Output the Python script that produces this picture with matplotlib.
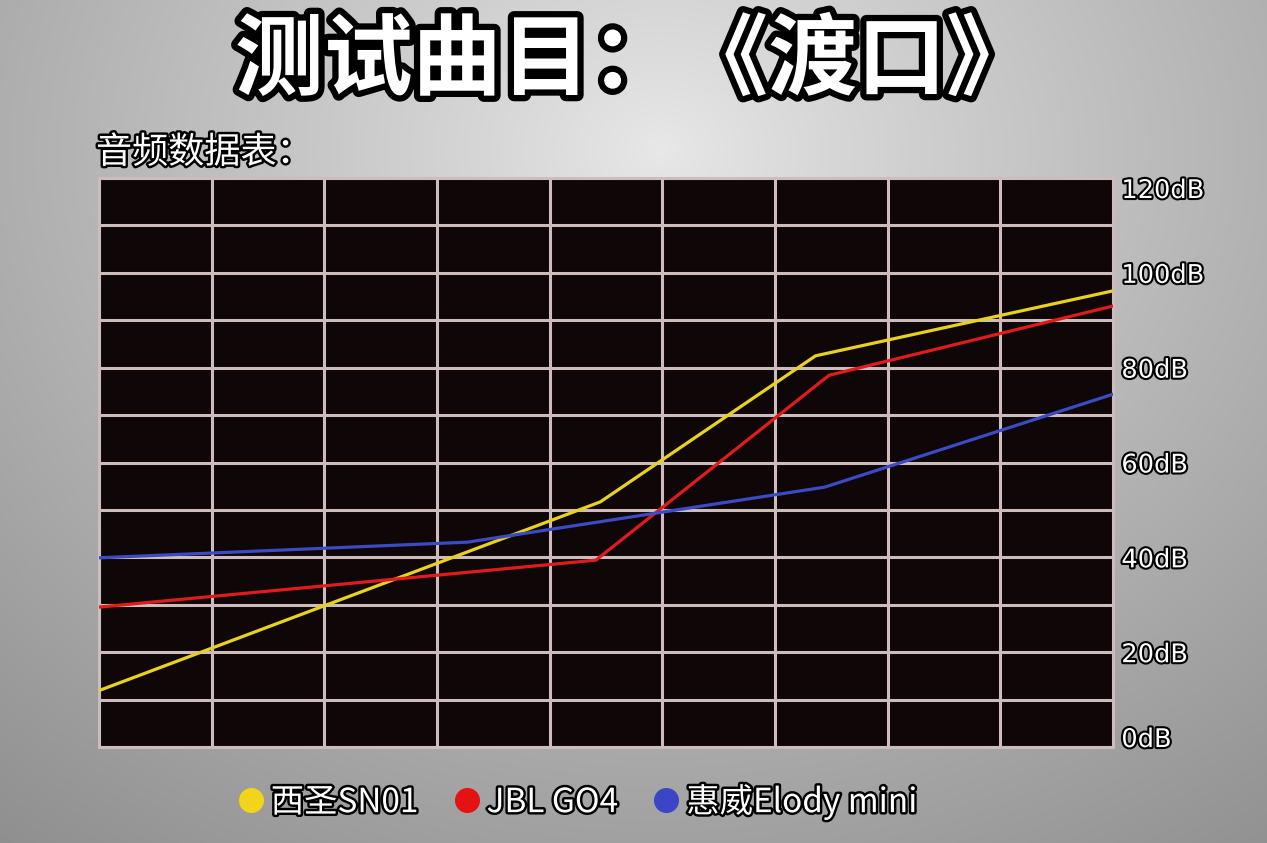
import numpy as np
import matplotlib
matplotlib.use("Agg")
import matplotlib.pyplot as plt
import matplotlib.patheffects as pe
from matplotlib.lines import Line2D

plt.rcParams['font.family'] = ['Noto Sans CJK SC', 'DejaVu Sans']

# ---- data ----
title = "测试曲目：《渡口》"
subtitle = "音频数据表："
series_names = ["西圣SN01", "JBL GO4", "惠威Elody mini"]
series_colors = ["#e8d21e", "#e01b1b", "#3c4ac4"]
legend_colors = ["#f2d51a", "#e41212", "#3a46c6"]

x_yellow = [0, 4.45, 6.36, 9]
y_yellow = [11.9, 51.7, 82.5, 96.2]
x_red = [0, 4.41, 6.48, 9]
y_red = [29.5, 39.4, 78.4, 93.0]
x_blue = [0, 3.27, 6.44, 9]
y_blue = [39.9, 43.2, 54.8, 74.4]

y_ticks = [0, 20, 40, 60, 80, 100, 120]
y_tick_labels = ["0dB", "20dB", "40dB", "60dB", "80dB", "100dB", "120dB"]

W, H = 1267, 843
fig = plt.figure(figsize=(W / 100, H / 100), dpi=100)

# ---- brushed metal background ----
bg = fig.add_axes([0, 0, 1, 1])
yy, xx = np.mgrid[0:H, 0:W]
d = np.sqrt(((xx - 660) / 900.0) ** 2 + ((yy - 150) / 750.0) ** 2)
val = 0.91 - 0.30 * np.clip(d, 0, 1.2) ** 0.9
img = np.dstack([val, val, val])
bg.imshow(img, aspect='auto', extent=[0, W, H, 0], vmin=0, vmax=1)
bg.set_xlim(0, W)
bg.set_ylim(H, 0)
bg.axis('off')

outline = [pe.withStroke(linewidth=3, foreground='black')]

# ---- main axes ----
ax = fig.add_axes([99 / W, 1 - 747 / H, 1014 / W, 569 / H])
ax.set_facecolor('#0f0607')
ax.set_xlim(0, 9)
ax.set_ylim(0, 120)
grid_c = '#cdbcbc'
ax.set_xticks(np.arange(0, 10, 1))
ax.set_yticks(np.arange(0, 121, 10), minor=True)
ax.set_yticks(y_ticks)
ax.grid(True, which='both', axis='y', color=grid_c, linewidth=2.2)
ax.grid(True, which='major', axis='x', color=grid_c, linewidth=2.2)
ax.set_axisbelow(True)
for s in ax.spines.values():
    s.set_color(grid_c)
    s.set_linewidth(2.2)
ax.tick_params(axis='x', which='both', length=0, labelbottom=False)
ax.tick_params(axis='y', which='both', length=0, left=False, labelleft=False,
               right=False, labelright=True, pad=6)
ax.set_yticklabels(y_tick_labels, fontsize=18.5, color='white')
labs = ax.get_yticklabels()
for lab in labs:
    lab.set_path_effects(outline)
    lab.set_family(['DejaVu Sans'])
labs[0].set_va('baseline')
labs[-1].set_va('top')

lw = 2.3
ax.plot(x_yellow, y_yellow, color=series_colors[0], lw=lw, zorder=3)
ax.plot(x_red, y_red, color=series_colors[1], lw=lw, zorder=3)
ax.plot(x_blue, y_blue, color=series_colors[2], lw=lw, zorder=3)

# ---- title / subtitle ----
fig.text(0.501, 1 - 62 / H, title, ha='center', va='center', fontsize=64,
         fontweight='black', color='white',
         path_effects=[pe.withStroke(linewidth=9, foreground='black')])
fig.text(96 / W, 1 - 153 / H, subtitle, ha='left', va='center', fontsize=26,
         color='white', path_effects=[pe.withStroke(linewidth=3.5, foreground='black')])

# ---- legend ----
handles = [Line2D([0], [0], marker='o', linestyle='none', markersize=17,
                  markerfacecolor=c, markeredgecolor=c) for c in legend_colors]
leg = fig.legend(handles, series_names, loc='center', bbox_to_anchor=(575 / W, 1 - 802 / H),
                 ncol=3, frameon=False, fontsize=24, handletextpad=0.05,
                 columnspacing=0.9, handlelength=1.1)
for t in leg.get_texts():
    t.set_color('white')
    t.set_path_effects([pe.withStroke(linewidth=3.5, foreground='black')])

fig.savefig('out.png', dpi=100)
